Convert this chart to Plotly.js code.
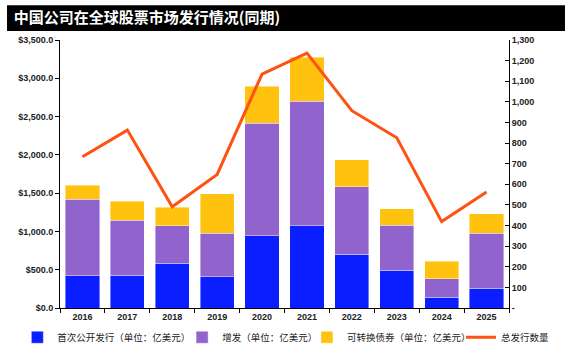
<!DOCTYPE html>
<html>
<head>
<meta charset="utf-8">
<script src="https://cdn.plot.ly/plotly-3.0.1.min.js"></script>
<style>html,body{margin:0;padding:0;background:#fff;}#chart{width:574px;height:354px;}</style>
</head>
<body>
<div id="chart"></div>
<script>
const years = ['2016','2017','2018','2019','2020','2021','2022','2023','2024','2025'];
const ipo = [418, 431, 583, 409, 945, 1071, 705, 496, 140, 257];
const followOn = [1002, 718, 488, 570, 1467, 1628, 879, 588, 243, 722];
const convertible = [186, 248, 248, 510, 487, 575, 353, 209, 227, 253];
const totalCount = [734, 863, 491, 648, 1135, 1236, 957, 826, 419, 563];
const rightTickVals = [0,100,200,300,400,500,600,700,800,900,1000,1100,1200,1300];
const rightTickText = ['-','100','200','300','400','500','600','700','800','900','1,000','1,100','1,200','1,300'];
const seriesNames = ['首次公开发行（单位：亿美元）','增发（单位：亿美元）','可转换债券（单位：亿美元）','总发行数量'];

const lineEdge = {color:'rgba(255,255,255,0.7)', width:0.6};
const traces = [
  {type:'bar', x:years, y:ipo, name:seriesNames[0], legend:'legend', marker:{color:'#0A1EFF', line:lineEdge}},
  {type:'bar', x:years, y:followOn, name:seriesNames[1], legend:'legend2', marker:{color:'#9063CD', line:lineEdge}},
  {type:'bar', x:years, y:convertible, name:seriesNames[2], legend:'legend3', marker:{color:'#FFC20E', line:lineEdge}},
  {type:'scatter', mode:'lines', x:years, y:totalCount, name:seriesNames[3], legend:'legend4', yaxis:'y2',
   line:{color:'#FF5212', width:3}}
];

const tickFont = {family:'Liberation Sans, Arial, sans-serif', size:9, color:'#222', weight:'bold'};
const legFont = {family:'Noto Sans CJK SC, sans-serif', size:9.5, color:'#222'};
function leg(x){ return {orientation:'h', x:x, xanchor:'left', y:-0.055, yanchor:'top', font:legFont, itemwidth:30, bgcolor:'rgba(0,0,0,0)'}; }
const layout = {
  width:574, height:354,
  margin:{l:60, r:65, t:40, b:46, autoexpand:false},
  paper_bgcolor:'#fff', plot_bgcolor:'#fff',
  barmode:'stack', bargap:0.24,
  showlegend:true,
  title:{text:'中国公司在全球股票市场发行情况(同期)', x:0.024, xanchor:'left', xref:'container',
         y:0.95, yanchor:'middle', yref:'container',
         font:{family:'Noto Sans CJK SC, sans-serif', size:15, color:'#fff', weight:'bold'}},
  shapes:[{type:'rect', xref:'paper', yref:'paper', x0:-0.118, x1:1.1247, y0:1.0336, y1:1.13,
           fillcolor:'#000', line:{width:0}, layer:'below'}],
  xaxis:{type:'category', showline:true, linecolor:'#000', linewidth:1, ticks:'outside', ticklen:4,
         tickson:'boundaries', tickcolor:'#000', tickfont:tickFont, showgrid:false, zeroline:false},
  yaxis:{range:[0,3500], dtick:500, tick0:0, tickprefix:'$', tickformat:',.1f', showline:true, linecolor:'#000',
         linewidth:1, ticks:'outside', ticklen:4, tickcolor:'#000', tickfont:tickFont, showgrid:false, zeroline:false},
  yaxis2:{range:[0,1300], overlaying:'y', side:'right', tickmode:'array', tickvals:rightTickVals, ticktext:rightTickText,
          showline:true, linecolor:'#000', linewidth:1, ticks:'inside', ticklen:4, tickcolor:'#000',
          tickfont:tickFont, showgrid:false, zeroline:false},
  legend:leg(-0.095),
  legend2:leg(0.272),
  legend3:leg(0.55),
  legend4:leg(0.893)
};
Plotly.newPlot('chart', traces, layout, {displayModeBar:false, staticPlot:true});
</script>
</body>
</html>
